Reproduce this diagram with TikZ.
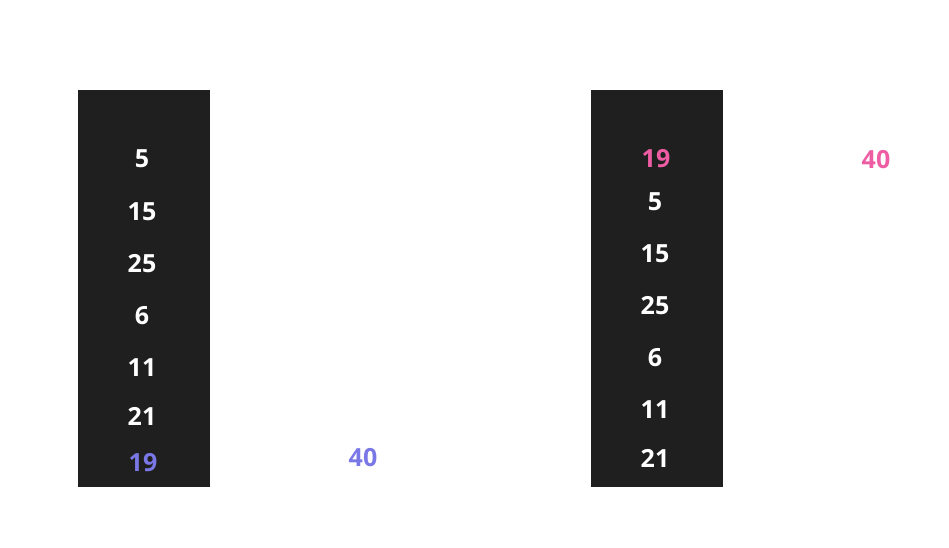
\documentclass[tikz,border=0pt]{standalone}
\usepackage{fontspec}
\setmainfont{Open Sans}
\usetikzlibrary{calc}
\definecolor{stackbg}{HTML}{1F1F1F}
\definecolor{pushblue}{HTML}{7A78E6}
\definecolor{pushpink}{HTML}{EE5DA3}
\tikzset{
 num/.style={font=\fontsize{25}{29}\selectfont\bfseries, inner sep=0, text=white},
 stack/.style={fill=stackbg, draw=none}
}
\begin{document}
\begin{tikzpicture}[x=1pt, y=-1pt]
\useasboundingbox (0,0) rectangle (949,548);
% left stack
\path[stack] (78,90) rectangle (210,487);
\foreach \v/\y/\n in {5/159/a, 15/212/b, 25/264/c, 6/316/d, 11/368/e, 21/416/f} {
 \node[num] (L\n) at (142,\y) {\v};
}
\node[num, text=pushblue] (Ltop) at (143,463) {19};
\node[num, text=pushblue] (Lin) at (363,458) {40};
% right stack
\path[stack] (591,90) rectangle (723,487);
\node[num, text=pushpink] (Rtop) at (656,159) {19};
\foreach \v/\y/\n in {5/202/a, 15/254/b, 25/306/c, 6/358/d, 11/410/e, 21/458/f} {
 \node[num] (R\n) at (655,\y) {\v};
}
\node[num, text=pushpink] (Rin) at (876,160) {40};
\end{tikzpicture}
\end{document}
